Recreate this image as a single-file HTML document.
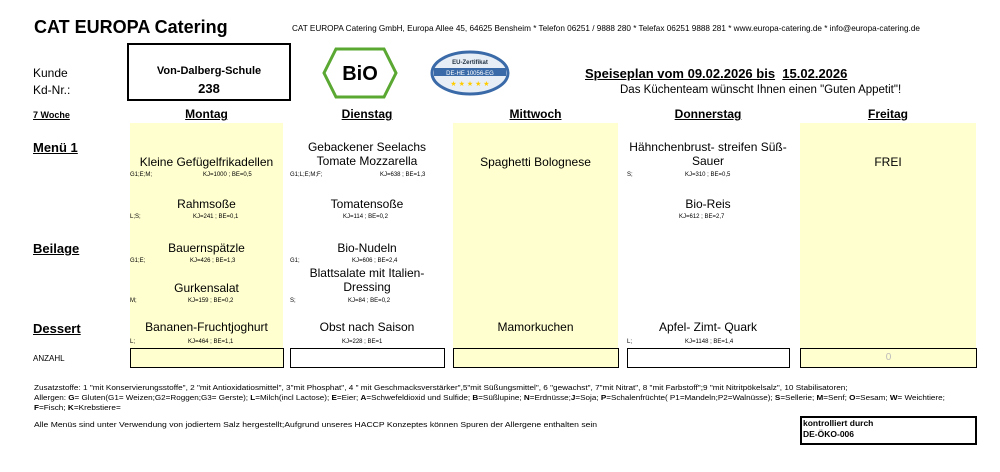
<!DOCTYPE html>
<html><head><meta charset="utf-8"><style>
body{margin:0;width:1000px;height:472px;background:#fff;position:relative;font-family:"Liberation Sans",Arial,sans-serif;color:#000;overflow:hidden}
.a{position:absolute;white-space:nowrap}
.y{position:absolute;background:#ffffd0}
.box{position:absolute;border:1px solid #000;height:18px;top:348px}
.c{position:absolute;text-align:center;font-size:12px;line-height:14px}
.s{position:absolute;font-size:6px}
.day{position:absolute;top:107px;font-size:12px;font-weight:bold;text-decoration:underline;text-align:center}
.lab{position:absolute;left:33px;font-size:13px;font-weight:bold;text-decoration:underline}
.f{position:absolute;white-space:nowrap;font-size:8.2px;transform:scaleY(0.85);transform-origin:0 0}
</style></head><body>
<div class="a" style="left:34px;top:17px;font-size:18px;font-weight:bold">CAT EUROPA Catering</div>
<div class="a" style="left:292px;top:24px;font-size:8.2px">CAT EUROPA Catering GmbH, Europa Allee 45, 64625 Bensheim * Telefon 06251 / 9888 280 * Telefax 06251 9888 281 * www.europa-catering.de * info@europa-catering.de</div>
<div class="a" style="left:33px;top:66px;font-size:12px">Kunde</div>
<div class="a" style="left:33px;top:83px;font-size:12px">Kd-Nr.:</div>
<div class="a" style="left:127px;top:43px;width:160px;height:54px;border:2px solid #000"></div>
<div class="a" style="left:127px;top:65px;width:164px;text-align:center;font-size:11px;font-weight:bold">Von-Dalberg-Schule</div>
<div class="a" style="left:127px;top:81px;width:164px;text-align:center;font-size:13px;font-weight:bold">238</div>
<svg class="a" style="left:322px;top:47px" width="76" height="52"><polygon points="14,2 62,2 74,26 62,50 14,50 2,26" fill="#fff" stroke="#5aa832" stroke-width="3"/><text x="38" y="33" font-family="Liberation Sans" font-weight="bold" font-size="20" text-anchor="middle">BiO</text></svg>
<svg class="a" style="left:430px;top:50px" width="80" height="46"><ellipse cx="40" cy="23" rx="38" ry="21" fill="#e8eef6" stroke="#3a6aa8" stroke-width="3"/><rect x="4" y="18" width="72" height="8" fill="#3a6aa8"/><text x="40" y="25" font-size="6" fill="#fff" text-anchor="middle" font-family="Liberation Sans">DE-HE 10056-EG</text><text x="40" y="14" font-size="6" fill="#234" text-anchor="middle" font-family="Liberation Sans" font-weight="bold">EU-Zertifikat</text><text x="40" y="36" font-size="7" fill="#fc0" text-anchor="middle">★ ★ ★ ★ ★</text></svg>
<div class="a" style="left:585px;top:66px;font-size:13px;font-weight:bold"><u>Speiseplan vom 09.02.2026 bis</u>&nbsp; <u>15.02.2026</u></div>
<div class="a" style="left:620px;top:84px;font-size:11.5px">Das Küchenteam wünscht Ihnen einen "Guten Appetit"!</div>
<div class="a" style="left:33px;top:110px;font-size:9px;font-weight:bold;text-decoration:underline">7 Woche</div>
<div class="day" style="left:130px;width:153px">Montag</div>
<div class="day" style="left:290px;width:154px">Dienstag</div>
<div class="day" style="left:453px;width:165px">Mittwoch</div>
<div class="day" style="left:627px;width:162px">Donnerstag</div>
<div class="day" style="left:800px;width:176px">Freitag</div>
<div class="y" style="left:130px;top:123px;width:153px;height:225px"></div>
<div class="y" style="left:453px;top:123px;width:165px;height:225px"></div>
<div class="y" style="left:800px;top:123px;width:176px;height:225px"></div>
<div class="lab" style="top:140px">Menü 1</div>
<div class="lab" style="top:241px">Beilage</div>
<div class="lab" style="top:321px">Dessert</div>
<div class="a" style="left:33px;top:354px;font-size:8px">ANZAHL</div>
<div class="c" style="left:130px;width:153px;top:155px">Kleine Gefügelfrikadellen</div>
<div class="s" style="left:130px;top:172px">G1;E;M;</div><div class="s" style="left:203px;top:172px">KJ=1000 ; BE=0,5</div>
<div class="c" style="left:130px;width:153px;top:197px">Rahmsoße</div>
<div class="s" style="left:130px;top:214px">L;S;</div><div class="s" style="left:193px;top:214px">KJ=241 ; BE=0,1</div>
<div class="c" style="left:130px;width:153px;top:241px">Bauernspätzle</div>
<div class="s" style="left:130px;top:258px">G1;E;</div><div class="s" style="left:190px;top:258px">KJ=426 ; BE=1,3</div>
<div class="c" style="left:130px;width:153px;top:281px">Gurkensalat</div>
<div class="s" style="left:130px;top:298px">M;</div><div class="s" style="left:188px;top:298px">KJ=159 ; BE=0,2</div>
<div class="c" style="left:130px;width:153px;top:320px">Bananen-Fruchtjoghurt</div>
<div class="s" style="left:130px;top:339px">L;</div><div class="s" style="left:188px;top:339px">KJ=464 ; BE=1,1</div>
<div class="c" style="left:290px;width:154px;top:140px">Gebackener Seelachs<br>Tomate Mozzarella</div>
<div class="s" style="left:290px;top:172px">G1;L;E;M;F;</div><div class="s" style="left:380px;top:172px">KJ=638 ; BE=1,3</div>
<div class="c" style="left:290px;width:154px;top:197px">Tomatensoße</div>
<div class="s" style="left:343px;top:214px">KJ=114 ; BE=0,2</div>
<div class="c" style="left:290px;width:154px;top:241px">Bio-Nudeln</div>
<div class="s" style="left:290px;top:258px">G1;</div><div class="s" style="left:352px;top:258px">KJ=606 ; BE=2,4</div>
<div class="c" style="left:290px;width:154px;top:266px">Blattsalate mit Italien-<br>Dressing</div>
<div class="s" style="left:290px;top:298px">S;</div><div class="s" style="left:348px;top:298px">KJ=84 ; BE=0,2</div>
<div class="c" style="left:290px;width:154px;top:320px">Obst nach Saison</div>
<div class="s" style="left:342px;top:339px">KJ=228 ; BE=1</div>
<div class="c" style="left:453px;width:165px;top:155px">Spaghetti Bolognese</div>
<div class="c" style="left:453px;width:165px;top:320px">Mamorkuchen</div>
<div class="c" style="left:618px;width:180px;top:140px">Hähnchenbrust- streifen Süß-<br>Sauer</div>
<div class="s" style="left:627px;top:172px">S;</div><div class="s" style="left:685px;top:172px">KJ=310 ; BE=0,5</div>
<div class="c" style="left:627px;width:162px;top:197px">Bio-Reis</div>
<div class="s" style="left:679px;top:214px">KJ=612 ; BE=2,7</div>
<div class="c" style="left:627px;width:162px;top:320px">Apfel- Zimt- Quark</div>
<div class="s" style="left:627px;top:339px">L;</div><div class="s" style="left:685px;top:339px">KJ=1148 ; BE=1,4</div>
<div class="c" style="left:800px;width:176px;top:155px">FREI</div>
<div class="box" style="left:130px;width:152px;background:#ffffd0"></div>
<div class="box" style="left:290px;width:153px"></div>
<div class="box" style="left:453px;width:164px;background:#ffffd0"></div>
<div class="box" style="left:627px;width:161px"></div>
<div class="box" style="left:800px;width:175px;background:#ffffd0;text-align:center;font-size:10px;line-height:18px;color:#bbb">0</div>
<div class="f" style="left:34px;top:384px">Zusatzstoffe: 1 "mit Konservierungsstoffe", 2 "mit Antioxidatiosmittel", 3"mit Phosphat", 4 " mit Geschmacksverstärker",5"mit Süßungsmittel", 6 "gewachst", 7"mit Nitrat", 8 "mit Farbstoff";9 "mit Nitritpökelsalz", 10 Stabilisatoren;</div>
<div class="f" style="left:34px;top:394px;font-size:8.1px">Allergen: <b>G</b>= Gluten(G1= Weizen;G2=Roggen;G3= Gerste); <b>L</b>=Milch(incl Lactose); <b>E</b>=Eier; <b>A</b>=Schwefeldioxid und Sulfide; <b>B</b>=Süßlupine; <b>N</b>=Erdnüsse;<b>J</b>=Soja; <b>P</b>=Schalenfrüchte( P1=Mandeln;P2=Walnüsse); <b>S</b>=Sellerie; <b>M</b>=Senf; <b>O</b>=Sesam; <b>W</b>= Weichtiere;</div>
<div class="f" style="left:34px;top:404px"><b>F</b>=Fisch; <b>K</b>=Krebstiere=</div>
<div class="f" style="left:34px;top:420px;font-size:8.6px">Alle Menüs sind unter Verwendung von jodiertem Salz hergestellt;Aufgrund unseres HACCP Konzeptes können Spuren der Allergene enthalten sein</div>
<div class="a" style="left:800px;top:416px;width:173px;height:25px;border:2px solid #000"></div>
<div class="a" style="left:803px;top:418px;font-size:8.5px;font-weight:bold;line-height:11px">kontrolliert durch<br>DE-ÖKO-006</div>
</body></html>
